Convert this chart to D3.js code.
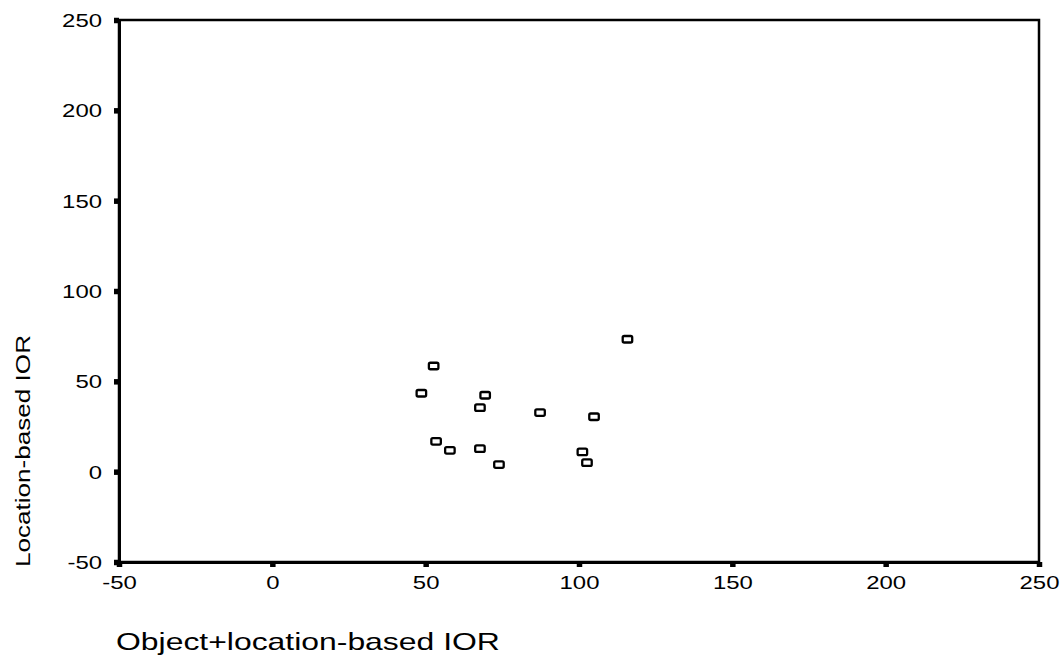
<!DOCTYPE html>
<html>
<head>
<meta charset="utf-8">
<script src="https://d3js.org/d3.v7.min.js"></script>
<style>
  body { margin: 0; background: #fff; }
  .axis text { font-family: "Liberation Sans", Arial, sans-serif; font-size: 18px; fill: #000; }
  .axis path { stroke: #000; stroke-width: 3; }
  .axis line { stroke: #000; stroke-width: 5.5; }
  .frame { fill: none; stroke: #000; stroke-width: 2.5; }
  .pt { fill: none; stroke: #000; stroke-width: 2.3; }
</style>
</head>
<body>
<script>
// Object+location-based IOR (x) vs Location-based IOR (y)
var xVals = [115.8, 52.6, 48.6, 69.4, 67.7, 87.3, 104.9, 53.4, 57.9, 67.7, 73.9, 101.1, 102.6];
var yVals = [73.3, 58.5, 43.4, 42.3, 35.4, 32.7, 30.4, 16.8, 11.8, 12.7, 3.9, 10.9, 5.0];
var xTicks = [-50, 0, 50, 100, 150, 200, 250];
var yTicks = [-50, 0, 50, 100, 150, 200, 250];
var xTitle = "Object+location-based IOR";
var yTitle = "Location-based IOR";

var W = 1064, H = 658;
var margin = {top: 20, right: 25, bottom: 96, left: 119};
var w = W - margin.left - margin.right,
    h = H - margin.top - margin.bottom;
var sx = 1.33; // the scanned figure's text is wide

var svg = d3.select("body").append("svg")
    .attr("width", W)
    .attr("height", H);

var g = svg.append("g")
    .attr("transform", "translate(" + margin.left + "," + margin.top + ")");

var x = d3.scaleLinear().domain([-50, 250]).range([0, w]);
var y = d3.scaleLinear().domain([-50, 250]).range([h, 0]);

// frame (top and right)
g.append("rect")
    .attr("class", "frame")
    .attr("x", 0).attr("y", 0)
    .attr("width", w).attr("height", h);

var fmt = function(d) { return String(d); };

var xAxis = g.append("g")
    .attr("class", "axis")
    .attr("transform", "translate(0," + h + ")")
    .call(d3.axisBottom(x).tickValues(xTicks).tickFormat(fmt).tickSize(5).tickSizeOuter(0).tickPadding(9));
xAxis.selectAll("text")
    .attr("transform", "scale(" + sx + ",1)");

var yAxis = g.append("g")
    .attr("class", "axis")
    .call(d3.axisLeft(y).tickValues(yTicks).tickFormat(fmt).tickSize(5).tickSizeOuter(0));
yAxis.selectAll("text")
    .attr("x", -17 / sx)
    .attr("dy", "0.36em")
    .attr("transform", "scale(" + sx + ",1)");

var data = xVals.map(function(d, i) { return {x: d, y: yVals[i]}; });

var mw = 9.5, mh = 6.5;
g.selectAll(".pt")
    .data(data)
    .enter()
    .append("rect")
    .attr("class", "pt")
    .attr("x", function(d) { return x(d.x) - mw / 2; })
    .attr("y", function(d) { return y(d.y) - mh / 2; })
    .attr("width", mw)
    .attr("height", mh)
    .attr("rx", 1.5);

svg.append("text")
    .attr("transform", "translate(116,650) scale(" + sx + ",1)")
    .style("font", "24px 'Liberation Sans', Arial, sans-serif")
    .text(xTitle);

svg.append("text")
    .attr("transform", "translate(30,451) rotate(-90)")
    .attr("text-anchor", "middle")
    .attr("textLength", 232)
    .attr("lengthAdjust", "spacingAndGlyphs")
    .style("font", "20px 'Liberation Sans', Arial, sans-serif")
    .text(yTitle);
</script>
</body>
</html>
